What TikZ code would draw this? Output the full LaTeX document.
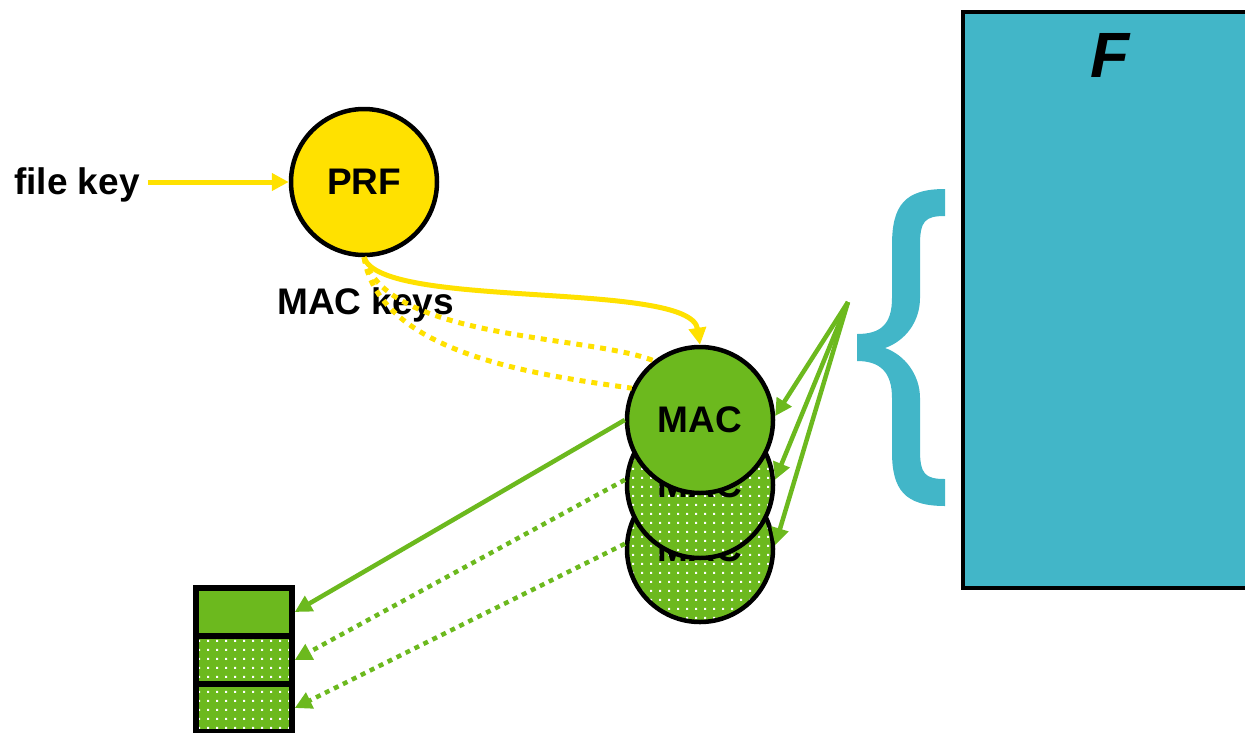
\documentclass[tikz,border=0pt]{standalone}
\usepackage{fontspec}
\setmainfont{Liberation Sans}
\usetikzlibrary{arrows.meta,patterns.meta}

\definecolor{keyyellow}{HTML}{FFE100}
\definecolor{macgreen}{HTML}{6CB91E}
\definecolor{filecyan}{HTML}{42B6C8}

% small white dots on a square grid
\tikzdeclarepattern{
  name=whitedots, type=uncolored,
  bounding box={(0pt,0pt) and (8.5pt,8.5pt)},
  tile size={(8.5pt,8.5pt)},
  code={\fill (3.2pt,3.2pt) rectangle (5.4pt,5.4pt);}
}

\tikzset{
  bigtext/.style={font=\fontsize{37}{40}\selectfont\bfseries},
  label/.style={bigtext, inner sep=2pt},
  prfnode/.style={circle, draw=black, line width=4.5pt, fill=keyyellow,
    minimum size=146pt, inner sep=0pt, bigtext},
  macnode/.style={circle, draw=black, line width=4.5pt, fill=macgreen,
    minimum size=146pt, inner sep=0pt, bigtext},
  macdotted/.style={circle, draw=black, line width=4.5pt,
    preaction={fill=macgreen}, pattern=whitedots, pattern color=white,
    minimum size=146pt, inner sep=0pt, bigtext},
  cell/.style={rectangle, draw=black, line width=5.5pt, fill=macgreen,
    minimum width=96pt, minimum height=48pt, inner sep=0pt},
  celldotted/.style={cell, fill=none, preaction={fill=macgreen},
    pattern=whitedots, pattern color=white},
  keyline/.style={draw=keyyellow, line width=5pt},
  keyarrow/.style={keyline, -{Triangle[length=17pt,width=17pt]}},
  keydots/.style={keyline, dash pattern=on 6pt off 6pt},
  tagline/.style={draw=macgreen, line width=4.5pt,
    -{Triangle[length=17pt,width=17pt]}},
  tagdots/.style={tagline, dash pattern=on 5pt off 5pt},
}

\begin{document}
\begin{tikzpicture}[x=1pt, y=-1pt]
\path[use as bounding box] (0,0) rectangle (1245,732);
\clip (0,0) rectangle (1245,732);

% file block
\node[rectangle, draw=black, line width=4.5pt, fill=filecyan,
      minimum width=300pt, minimum height=576pt, inner sep=0pt]
      (file) at (1113,300) {};
\node[font=\fontsize{64}{70}\selectfont\bfseries\itshape] (fname) at (1110,55) {F};

% brace in front of the file block
\fill[filecyan]
  (945,189) .. controls (905,189) and (892,205) .. (892,245)
  -- (892,298) .. controls (892,325) and (880,334) .. (857,334)
  -- (857,361) .. controls (880,361) and (892,372) .. (892,398)
  -- (892,452) .. controls (892,490) and (905,506) .. (945,506)
  -- (945,479) .. controls (925,479) and (920,474) .. (920,450)
  -- (920,398) .. controls (920,375) and (905,355) .. (885,348)
  .. controls (905,341) and (920,322) .. (920,298)
  -- (920,245) .. controls (920,221) and (925,216) .. (945,216)
  -- cycle;
\coordinate (src) at (848,302);

% key derivation
\node[label, anchor=base west] (filekey) at (12,194) {file key};
\node[prfnode] (prf) at (364,182) {PRF};
\node[label, anchor=base west] (mackeys) at (275,314) {MAC keys};

% MAC computations, stacked
\node[macdotted] (mac3) at (700,549) {MAC};
\node[macdotted] (mac2) at (700,485) {MAC};
\node[macnode]   (mac1) at (700,420) {MAC};

% tags
\node[cell]       (tag1) at (244,612) {};
\node[celldotted] (tag2) at (244,660) {};
\node[celldotted] (tag3) at (244,708) {};

% connectors
\draw[keyarrow] ([xshift=6pt]filekey.east |- prf.west) -- (prf.west);
\draw[keydots] (prf.south) .. controls (380,355) and (540,375) .. (mac1.155);
\draw[keydots] (prf.south) .. controls (385,340) and (590,335) .. (mac1.128);
\draw[keyarrow] (prf.south) .. controls (380,310) and (690,280) .. (mac1.north);

\draw[tagline] (src) -- (mac1.3);
\draw[tagline] (src) -- (mac2.4);
\draw[tagline] (src) -- (mac3.3);

\draw[tagline] (mac1.west) -- (tag1.east);
\draw[tagdots] (mac2.176) -- (tag2.east);
\draw[tagdots] (mac3.176) -- (tag3.east);
\end{tikzpicture}
\end{document}
